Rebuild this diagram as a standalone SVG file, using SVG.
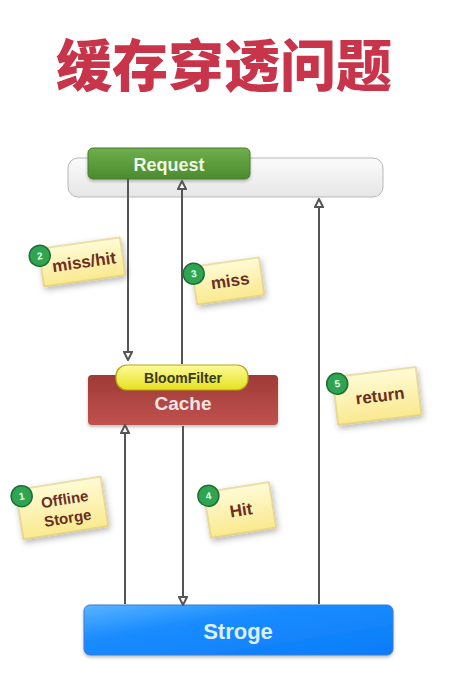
<svg xmlns="http://www.w3.org/2000/svg" width="462" height="686" viewBox="0 0 462 686">
<defs>
<style>
.title{font-family:"Noto Sans CJK SC","Noto Sans CJK JP",sans-serif;font-weight:900;font-size:56px;fill:#c8344a}
.lbl{font-family:"Liberation Sans",Arial,sans-serif;font-weight:bold;text-anchor:middle}
.note-t{font-family:"Liberation Sans",Arial,sans-serif;font-weight:bold;font-size:17px;fill:#6b2e22;text-anchor:middle}
.num{font-family:"Liberation Sans",Arial,sans-serif;font-weight:bold;font-size:10px;fill:#e8ffe8;text-anchor:middle}
.conn{stroke:#555;stroke-width:2;fill:none}
.note{fill:url(#gNote);stroke:#d9c36a;stroke-width:1}
.badge{fill:#2fa552;stroke:#1f6e36;stroke-width:1.5}
</style>
<linearGradient id="gNote" x1="0" y1="0" x2="0" y2="1">
<stop offset="0" stop-color="#fffbd6"/><stop offset="1" stop-color="#f9e98e"/>
</linearGradient>
<linearGradient id="gGreen" x1="0" y1="0" x2="0" y2="1">
<stop offset="0" stop-color="#6fae4a"/><stop offset="1" stop-color="#4c8b2e"/>
</linearGradient>
<linearGradient id="gReq" x1="0" y1="0" x2="0" y2="1">
<stop offset="0" stop-color="#fbfbfb"/><stop offset="1" stop-color="#e6e6e6"/>
</linearGradient>
<linearGradient id="gCache" x1="0" y1="0" x2="0" y2="1">
<stop offset="0" stop-color="#9e3a36"/><stop offset="1" stop-color="#c0524e"/>
</linearGradient>
<linearGradient id="gBloom" x1="0" y1="0" x2="0" y2="1">
<stop offset="0" stop-color="#fbfb9a"/><stop offset="1" stop-color="#e6e11e"/>
</linearGradient>
<linearGradient id="gStore" x1="0" y1="0" x2="1" y2="1">
<stop offset="0" stop-color="#5ab4ff"/><stop offset="0.35" stop-color="#1a8cff"/><stop offset="1" stop-color="#0a7cf8"/>
</linearGradient>
<filter id="sh" x="-30%" y="-30%" width="160%" height="170%">
<feDropShadow dx="1" dy="3" stdDeviation="3" flood-color="#000" flood-opacity="0.3"/>
</filter>
<filter id="shs" x="-10%" y="-30%" width="120%" height="170%">
<feDropShadow dx="0" dy="2" stdDeviation="1.5" flood-color="#000" flood-opacity="0.25"/>
</filter>
<marker id="ah" viewBox="0 0 10 10" refX="9" refY="5" markerWidth="5" markerHeight="5" orient="auto" markerUnits="strokeWidth">
<path d="M1,1 L9,5 L1,9 z" fill="#fff" stroke="#555" stroke-width="2"/>
</marker>
</defs>
<rect width="462" height="686" fill="#ffffff"/>
<text class="title" x="224" y="86" text-anchor="middle">缓存穿透问题</text>

<g id="request">
<rect x="68" y="158" width="315" height="39" rx="10" fill="url(#gReq)" stroke="#b8b8b8" stroke-width="1"/>
<rect x="88" y="148" width="162" height="31" rx="5" fill="url(#gGreen)" stroke="#4a7d30" stroke-width="1" filter="url(#shs)"/>
<text class="lbl" x="169" y="171" font-size="18" fill="#eef7e6">Request</text>
</g>

<g id="cache">
<rect x="88" y="375" width="190" height="50" rx="4" fill="url(#gCache)" filter="url(#shs)"/>
<rect x="116" y="365" width="132" height="25" rx="11" fill="url(#gBloom)" stroke="#b9a21a" stroke-width="1.2"/>
<text class="lbl" x="183" y="383" font-size="14" fill="#3b3a12">BloomFilter</text>
<text class="lbl" x="183" y="410" font-size="19" fill="#f6e4e4">Cache</text>
</g>

<g id="storage">
<rect x="84" y="605" width="309" height="50" rx="6" fill="url(#gStore)" stroke="#3a7ad8" stroke-width="1" filter="url(#shs)"/>
<text class="lbl" x="238" y="639" font-size="22" fill="#dcefff">Stroge</text>
</g>

<g id="connectors">
<line class="conn" x1="128" y1="179" x2="128" y2="360" marker-end="url(#ah)"/>
<line class="conn" x1="182" y1="364" x2="182" y2="181" marker-end="url(#ah)"/>
<line class="conn" x1="183" y1="426" x2="183" y2="605" marker-end="url(#ah)"/>
<line class="conn" x1="125" y1="604" x2="125" y2="425" marker-end="url(#ah)"/>
<line class="conn" x1="319" y1="604" x2="319" y2="199" marker-end="url(#ah)"/>
</g>

<g id="note2" transform="translate(82,262) rotate(-8)">
<rect class="note" x="-41" y="-19" width="82" height="38" filter="url(#sh)"/>
<text class="note-t" x="2" y="6">miss/hit</text>
<circle class="badge" cx="-41" cy="-12" r="10.5"/>
<text class="num" x="-41" y="-8.5">2</text>
</g>

<g id="note3" transform="translate(228,281) rotate(-8)">
<rect class="note" x="-34" y="-19" width="68" height="38" filter="url(#sh)"/>
<text class="note-t" x="2" y="6">miss</text>
<circle class="badge" cx="-33" cy="-12" r="10.5"/>
<text class="num" x="-33" y="-8.5">3</text>
</g>

<g id="note5" transform="translate(377,396) rotate(-7)">
<rect class="note" x="-42" y="-24" width="84" height="48" filter="url(#sh)"/>
<text class="note-t" x="3" y="6">return</text>
<circle class="badge" cx="-38" cy="-17" r="10.5"/>
<text class="num" x="-38" y="-13.5">5</text>
</g>

<g id="note1" transform="translate(62,508) rotate(-9)">
<rect class="note" x="-43" y="-25" width="86" height="50" filter="url(#sh)"/>
<text class="note-t" x="4" y="-3" style="font-size:15px">Offline</text>
<text class="note-t" x="4" y="16" style="font-size:15px">Storge</text>
<circle class="badge" cx="-38" cy="-18" r="10.5"/>
<text class="num" x="-38" y="-14.5">1</text>
</g>

<g id="note4" transform="translate(240,510) rotate(-9)">
<rect class="note" x="-33" y="-23" width="66" height="46" filter="url(#sh)"/>
<text class="note-t" x="1" y="6">Hit</text>
<circle class="badge" cx="-29" cy="-19" r="10.5"/>
<text class="num" x="-29" y="-15.5">4</text>
</g>
</svg>
